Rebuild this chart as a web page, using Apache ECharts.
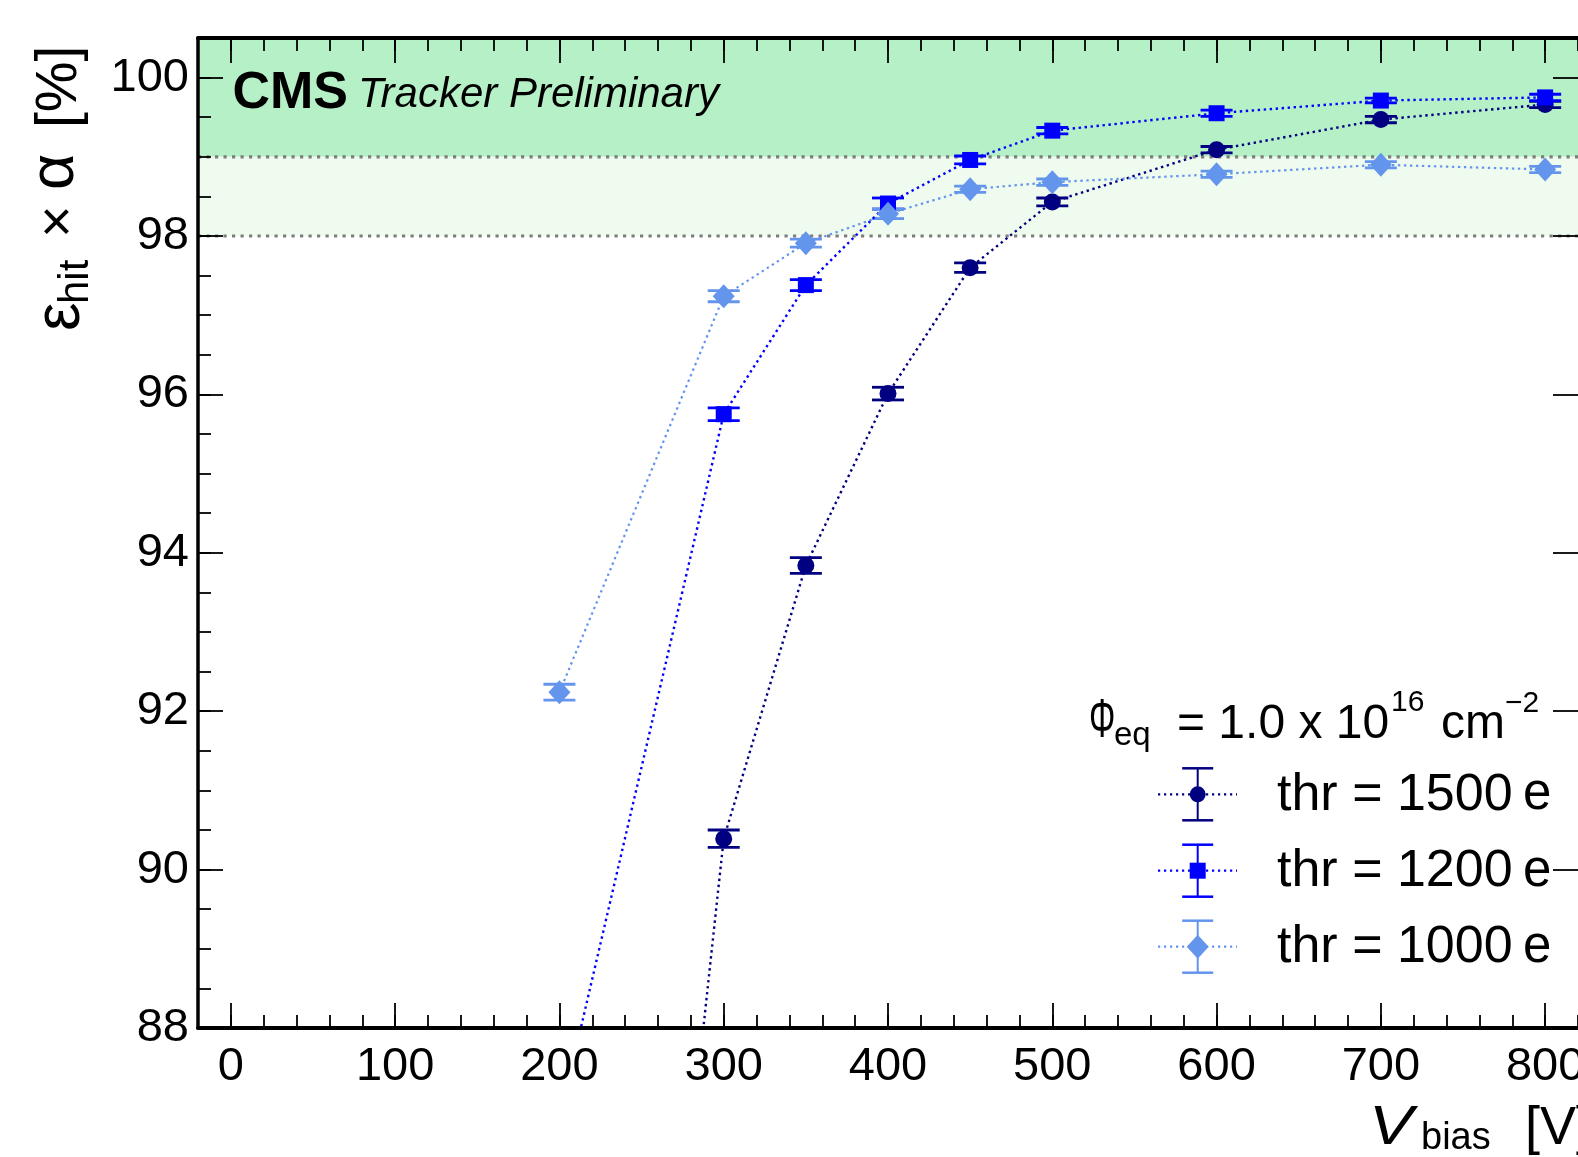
<!DOCTYPE html>
<html><head><meta charset="utf-8">
<script src="https://cdn.jsdelivr.net/npm/echarts@6/dist/echarts.min.js"></script>
<style>html,body{margin:0;padding:0;background:#fff}#c{width:1578px;height:1157px}</style>
</head><body><div id="c"></div>
<script>
// ---- data ----
const volt1500 = [200, 300, 350, 400, 450, 500, 600, 700, 800];
const eff1500  = [71.1, 90.39, 93.84, 96.01, 97.60, 98.43, 99.09, 99.47, 99.66];
const err1500  = [0.20, 0.11, 0.10, 0.08, 0.06, 0.05, 0.04, 0.04, 0.04];

const volt1200 = [200, 300, 350, 400, 450, 500, 600, 700, 800];
const eff1200  = [86.84, 95.75, 97.38, 98.41, 98.96, 99.33, 99.55, 99.71, 99.75];
const err1200  = [0.15, 0.08, 0.07, 0.07, 0.05, 0.04, 0.04, 0.03, 0.04];

const volt1000 = [200, 300, 350, 400, 450, 500, 600, 700, 800];
const eff1000  = [92.24, 97.24, 97.91, 98.28, 98.59, 98.68, 98.78, 98.90, 98.84];
const err1000  = [0.10, 0.07, 0.05, 0.06, 0.04, 0.04, 0.04, 0.04, 0.04];

const seriesNames = ['thr = 1500', 'thr = 1200', 'thr = 1000'];
const xMajorTicks = [0, 100, 200, 300, 400, 500, 600, 700, 800];
const yMajorTicks = [88, 90, 92, 94, 96, 98, 100];
const bandRanges = [[98, 99], [99, 100.5]];
const bandLines = [98, 99];
const xRange = [-20, 820];
const yRange = [88, 100.5];

// ---- style ----
const FONT = '"Liberation Sans", Arial, Helvetica, sans-serif';
const colors = ['#000080', '#0000ff', '#6495ed'];
const bandColors = ['#effbef', '#b6f0c6'];
const symbols = ['circle', 'rect', 'diamond'];
const symbolSizes = [17, 16, [22, 24]];

function zip(x, y, e) { return x.map((v, i) => e ? [v, y[i], e[i]] : [v, y[i]]); }

function errRender(color) {
  return function (params, api) {
    const x = api.value(0), y = api.value(1), e = api.value(2);
    const t = api.coord([x, y + e]), b = api.coord([x, y - e]);
    const hw = 16;
    return { type: 'group', children: [
      { type: 'line', shape: { x1: t[0], y1: t[1], x2: b[0], y2: b[1] }, style: { stroke: color, lineWidth: 2 } },
      { type: 'line', shape: { x1: t[0] - hw, y1: t[1], x2: t[0] + hw, y2: t[1] }, style: { stroke: color, lineWidth: 2.8 } },
      { type: 'line', shape: { x1: b[0] - hw, y1: b[1], x2: b[0] + hw, y2: b[1] }, style: { stroke: color, lineWidth: 2.8 } }
    ]};
  };
}

const allData = [
  [volt1500, eff1500, err1500],
  [volt1200, eff1200, err1200],
  [volt1000, eff1000, err1000]
];

const series = [];
series.push({
  type: 'custom', coordinateSystem: 'cartesian2d', xAxisIndex: 0, yAxisIndex: 0, z: 1, silent: true,
  data: bandRanges.map((r, i) => [r[0], r[1], i]),
  renderItem: function (params, api) {
    const cs = params.coordSys;
    const y1 = api.coord([0, api.value(1)])[1], y0 = api.coord([0, api.value(0)])[1];
    return { type: 'rect', shape: { x: cs.x, y: y1, width: cs.width, height: y0 - y1 },
      style: { fill: bandColors[api.value(2)] } };
  }
});
series.push({
  type: 'custom', coordinateSystem: 'cartesian2d', xAxisIndex: 0, yAxisIndex: 0, z: 2, silent: true,
  data: bandLines.map(v => [v]),
  encode: { y: 0 },
  renderItem: function (params, api) {
    const cs = params.coordSys;
    const y = api.coord([0, api.value(0)])[1];
    return { type: 'line', shape: { x1: cs.x, y1: y, x2: cs.x + cs.width, y2: y },
      style: { stroke: '#7d7d7d', lineWidth: 3.2, lineDash: [3.2, 5.3] } };
  }
});
allData.forEach((d, i) => {
  series.push({
    type: 'custom', name: seriesNames[i] + ' err', coordinateSystem: 'cartesian2d', xAxisIndex: 0, yAxisIndex: 0,
    z: 3, clip: true, silent: true, encode: { x: 0, y: 1 },
    data: zip(d[0], d[1], d[2]), renderItem: errRender(colors[i])
  });
});
allData.forEach((d, i) => {
  series.push({
    type: 'line', name: seriesNames[i], xAxisIndex: 0, yAxisIndex: 0, z: 4, clip: true,
    data: zip(d[0], d[1]), symbol: symbols[i], symbolSize: symbolSizes[i], showAllSymbol: true,
    itemStyle: { color: colors[i], borderWidth: 0 },
    lineStyle: { color: colors[i], width: i === 2 ? 2.2 : 2.4, type: [2.4, 3.6] },
    animation: false
  });
});

const tickStyle = { color: '#000', width: 1.8 };
function xAx(pos, major) {
  return {
    type: 'value', position: pos, min: xRange[0], max: xRange[1], z: 10,
    interval: major ? undefined : 20,
    axisLine: { show: major, onZero: false, lineStyle: { color: '#000', width: 4 } },
    axisTick: major ? { show: true, inside: true, length: 25, customValues: xMajorTicks, lineStyle: tickStyle }
                    : { show: true, inside: true, length: 13, lineStyle: tickStyle },
    axisLabel: (major && pos === 'bottom') ? { show: true, customValues: xMajorTicks, margin: 16, fontSize: 47, color: '#000', fontFamily: FONT }
                                           : { show: false },
    splitLine: { show: false }
  };
}
function yAx(pos, major) {
  return {
    type: 'value', position: pos, min: yRange[0], max: yRange[1], z: 10,
    interval: major ? undefined : 0.5,
    axisLine: { show: major && pos === 'left', onZero: false, lineStyle: { color: '#000', width: 3.5 } },
    axisTick: major ? { show: true, inside: true, length: 25, customValues: yMajorTicks, lineStyle: tickStyle }
                    : { show: pos === 'left', inside: true, length: 13, lineStyle: tickStyle },
    axisLabel: (major && pos === 'left') ? { show: true, customValues: yMajorTicks, margin: 9, fontSize: 47, color: '#000', fontFamily: FONT }
                                         : { show: false },
    splitLine: { show: false }
  };
}

// ---- graphic texts / legend ----
const graphic = [];
function txt(x, y, text, size, opts) {
  opts = opts || {};
  const el = { type: 'text', x: x, y: y, z: 20, silent: true,
    style: { text: text, fontSize: size, fontFamily: FONT, fill: '#000', align: 'left', verticalAlign: 'middle',
      fontWeight: opts.bold ? 'bold' : 'normal', fontStyle: opts.italic ? 'italic' : 'normal' } };
  if (opts.rot) el.rotation = opts.rot;
  if (opts.sx) el.scaleX = opts.sx;
  graphic.push(el);
}
txt(232.5, 94, 'CMS', 52, { bold: true });
txt(358, 95, 'Tracker Preliminary', 42, { italic: true });

// y title (rotated)
const R = Math.PI / 2;
txt(61, 331, 'ε', 64, { rot: R });
txt(76, 304, 'hit', 42, { rot: R });
txt(60, 238, '×', 56, { rot: R });
txt(56, 190, 'α', 63, { rot: R });
txt(60, 128, '[%]', 57, { rot: R });

// x title
txt(1369, 1129, 'V', 55, { italic: true, sx: 1.2 });
txt(1421, 1139, 'bias', 38);
txt(1525, 1129, '[V]', 54);

// legend header
txt(1089, 722, 'Φ', 55, { sx: 0.6 });
txt(1114, 736, 'eq', 33);
txt(1177, 724.5, '= 1.0 x 10', 48);
txt(1391, 702.5, '16', 30);
txt(1441, 724.5, 'cm', 48);
txt(1505, 704, '−2', 30);

const rowY = [794.3, 870.7, 946.7];
const lx = 1197.7;
seriesNames.forEach((name, i) => {
  const y = rowY[i], c = colors[i];
  graphic.push({ type: 'line', z: 20, silent: true, shape: { x1: 1158, y1: y, x2: 1237, y2: y }, style: { stroke: c, lineWidth: 2.2, lineDash: [2.2, 3.8] } });
  graphic.push({ type: 'line', z: 20, silent: true, shape: { x1: lx, y1: y - 26, x2: lx, y2: y + 26 }, style: { stroke: c, lineWidth: 2 } });
  graphic.push({ type: 'line', z: 20, silent: true, shape: { x1: lx - 15.5, y1: y - 26, x2: lx + 15.5, y2: y - 26 }, style: { stroke: c, lineWidth: 2.5 } });
  graphic.push({ type: 'line', z: 20, silent: true, shape: { x1: lx - 15.5, y1: y + 26, x2: lx + 15.5, y2: y + 26 }, style: { stroke: c, lineWidth: 2.5 } });
  if (symbols[i] === 'circle') graphic.push({ type: 'circle', z: 21, silent: true, shape: { cx: lx, cy: y, r: 8 }, style: { fill: c } });
  else if (symbols[i] === 'rect') graphic.push({ type: 'rect', z: 21, silent: true, shape: { x: lx - 8, y: y - 8, width: 16, height: 16 }, style: { fill: c } });
  else graphic.push({ type: 'polygon', z: 21, silent: true, shape: { points: [[lx, y - 12], [lx + 11, y], [lx, y + 12], [lx - 11, y]] }, style: { fill: c } });
  txt(1277, y + 1, name, 52);
  txt(1523, y + 1, 'e', 51);
});

const chart = echarts.init(document.getElementById('c'), null, { renderer: 'canvas' });
chart.setOption({
  animation: false,
  backgroundColor: '#fff',
  grid: { left: 198, right: 0, top: 38, bottom: 129, containLabel: false, outerBoundsMode: 'none' },
  xAxis: [xAx('bottom', true), xAx('bottom', false), xAx('top', true), xAx('top', false)],
  yAxis: [yAx('left', true), yAx('left', false), yAx('right', true), yAx('right', false)],
  series: series,
  graphic: graphic
});
</script></body></html>
